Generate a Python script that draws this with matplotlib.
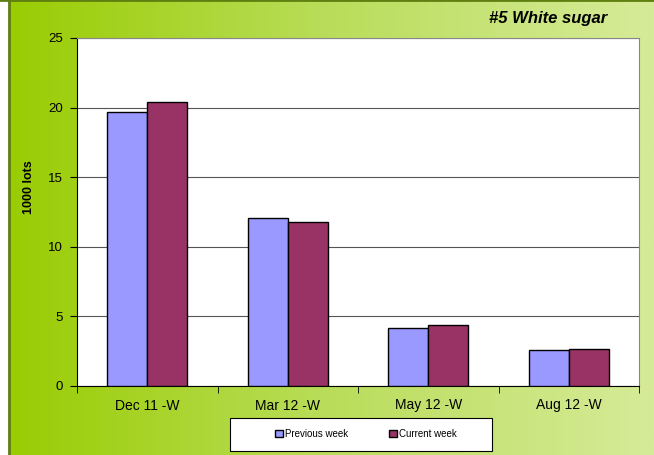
import numpy as np
import matplotlib
matplotlib.use("Agg")
import matplotlib.pyplot as plt
from matplotlib.patches import Rectangle
from matplotlib.colors import LinearSegmentedColormap

plt.rcParams['font.family'] = ['Liberation Sans', 'DejaVu Sans']

categories = ["Dec 11 -W", "Mar 12 -W", "May 12 -W", "Aug 12 -W"]
previous_week = [19.7, 12.1, 4.2, 2.6]
current_week = [20.4, 11.8, 4.4, 2.65]
y_ticks = [0, 5, 10, 15, 20, 25]

W, H = 654, 455
fig = plt.figure(figsize=(W / 100, H / 100), dpi=100)

# green gradient background
bg = fig.add_axes([0, 0, 1, 1], zorder=-10)
cmap = LinearSegmentedColormap.from_list("g", ["#99cc00", "#b9dd5a", "#d6eb98"])
grad = np.linspace(0, 1, 256).reshape(1, -1)
bg.imshow(grad, cmap=cmap, aspect="auto", extent=[0, 1, 0, 1])
bg.set_xlim(0, 1)
bg.set_ylim(0, 1)
bg.add_patch(Rectangle((0, 0), 8 / W, 1, color="white", zorder=3))
bg.plot([9 / W, 9 / W], [0, 1], color="#5f7f10", lw=2, zorder=4)
bg.plot([0, 1], [0.999, 0.999], color="#5f7f10", lw=2, zorder=4)
# legend box
bg.add_patch(Rectangle((230 / W, 1 - 451 / H), 262 / W, 33 / H, facecolor="white",
                       edgecolor="black", lw=0.8, zorder=5))
bg.axis("off")

ax = fig.add_axes([77 / W, 69 / H, 562 / W, 348 / H])
ax.set_facecolor("white")
x = np.arange(len(categories))
w = 0.285
ax.bar(x - w / 2, previous_week, w, color="#9999ff", edgecolor="black", lw=1, label="Previous week", zorder=3)
ax.bar(x + w / 2, current_week, w, color="#993366", edgecolor="black", lw=1, label="Current week", zorder=3)

ax.set_xlim(-0.5, len(categories) - 0.5)
ax.set_ylim(0, 25)
ax.set_yticks(y_ticks)
ax.yaxis.grid(True, color="#555555", lw=0.8, zorder=0)
ax.set_xticks(x)
ax.set_xticklabels(categories, fontsize=10)
ax.set_xticks(np.arange(-0.5, len(categories)), minor=True)
ax.tick_params(axis="x", which="major", length=0, pad=9)
ax.tick_params(axis="x", which="minor", length=5, direction="out")
ax.tick_params(axis="y", length=5, direction="out", labelsize=9.5, pad=5)
for s in ["top", "right"]:
    ax.spines[s].set_color("#888888")

fig.text(29 / W, 1 - 187 / H, "1000 lots", rotation=90, ha="center", va="center",
         fontsize=9, fontweight="bold")
fig.text(607 / W, 1 - 18 / H, "#5 White sugar", ha="right", va="center",
         fontsize=12, fontweight="bold", fontstyle="italic")

leg = fig.legend(loc="center", bbox_to_anchor=(366 / W, 1 - 434 / H), ncol=2,
                 fontsize=7, frameon=False,
                 handlelength=0.8, handleheight=0.8, handletextpad=0.2,
                 columnspacing=4.2)
leg.set_zorder(20)

fig.savefig("out.png", dpi=100)
